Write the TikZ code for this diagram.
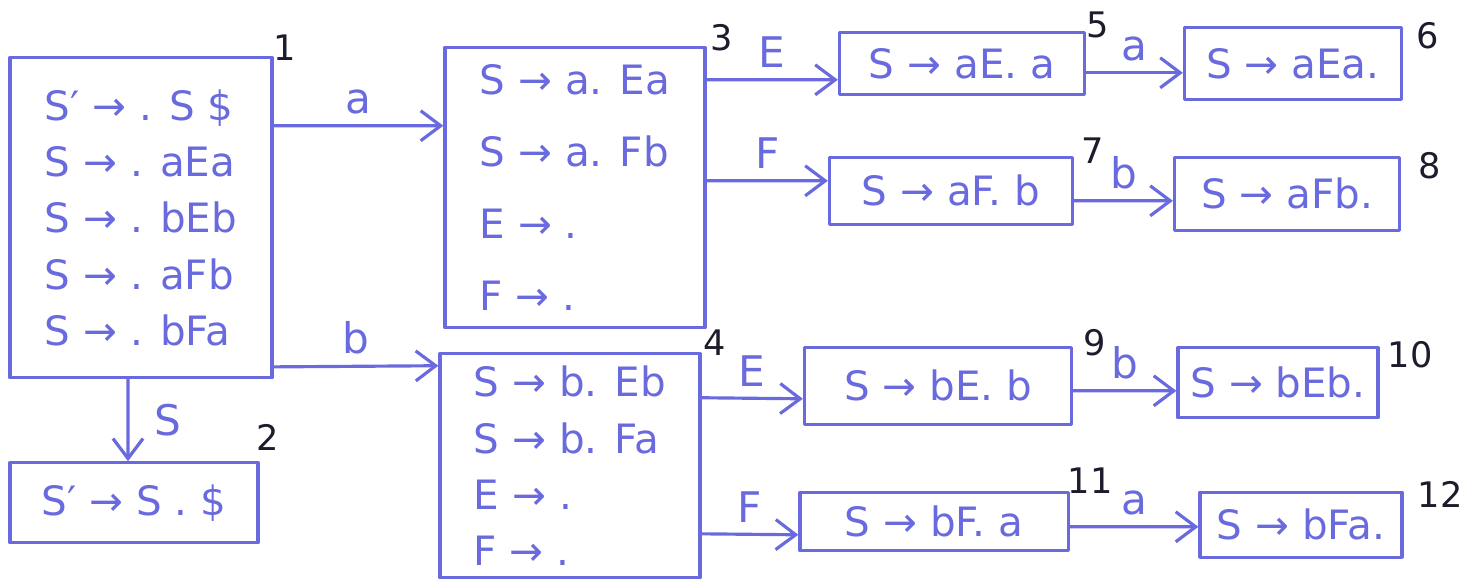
\documentclass[tikz,border=0pt]{standalone}
\usepackage{fontspec}
\setmainfont{DejaVu Sans}
\usetikzlibrary{arrows.meta}
\definecolor{inkblue}{HTML}{6A6ADF}
\definecolor{inkdark}{HTML}{1C1C2C}

\begin{document}
\begin{tikzpicture}[
  x=0.01cm, y=-0.01cm,
  >={Straight Barb[length=2mm, width=3mm]},
  line cap=round, line join=round,
  state/.style={draw=inkblue, line width=0.9pt, align=left, text=inkblue,
    inner sep=2pt, font=\fontsize{11.5}{16}\selectfont},
  trans/.style={->, draw=inkblue, line width=0.9pt},
  elab/.style={font=\fontsize{12}{14}\selectfont, text=inkblue, inner sep=3pt},
  num/.style={font=\fontsize{10}{12}\selectfont, text=inkdark},
]
\path (0,0) rectangle (1478,579);

% item sets
\node[state, minimum width=2.62cm, minimum height=3.2cm] (s1) at (141,215)
  {S′ → . S \$\\S → . aEa\\S → . bEb\\S → . aFb\\S → . bFa};
\node[state, minimum width=2.48cm, minimum height=0.8cm] (s2) at (134,500)
  {S′ → S . \$};
\node[state, minimum width=2.6cm, minimum height=2.8cm,
  font=\fontsize{11.5}{20.5}\selectfont] (s3) at (575,185)
  {S → a. Ea\\S → a. Fb\\E → .\\F → .};
\node[state, minimum width=2.6cm, minimum height=2.24cm] (s4) at (570,463)
  {S → b. Eb\\S → b. Fa\\E → .\\F → .};

% upper branch
\node[state, minimum width=2.45cm, minimum height=0.62cm] (s5) at (962,61) {S → aE. a};
\node[state, minimum width=2.17cm, minimum height=0.72cm] (s6) at (1293,61) {S → aEa.};
\node[state, minimum width=2.43cm, minimum height=0.67cm] (s7) at (951,188) {S → aF. b};
\node[state, minimum width=2.25cm, minimum height=0.73cm] (s8) at (1287,191) {S → aFb.};

% lower branch
\node[state, minimum width=2.67cm, minimum height=0.77cm] (s9) at (938,383) {S → bE. b};
\node[state, minimum width=2.0cm, minimum height=0.7cm] (s10) at (1278,380) {S → bEb.};
\node[state, minimum width=2.68cm, minimum height=0.58cm] (s11) at (934,519) {S → bF. a};
\node[state, minimum width=2.02cm, minimum height=0.65cm] (s12) at (1301,522) {S → bFa.};

% state numbers
\node[num] (n1) at (285,45) {1};
\node[num] (n2) at (268,435) {2};
\node[num] (n3) at (722,35) {3};
\node[num] (n4) at (715,340) {4};
\node[num] (n5) at (1098,22) {5};
\node[num] (n6) at (1428,33) {6};
\node[num] (n7) at (1093,148) {7};
\node[num] (n8) at (1430,163) {8};
\node[num] (n9) at (1095,340) {9};
\node[num] (n10) at (1410,352) {10};
\node[num] (n11) at (1090,478) {11};
\node[num] (n12) at (1440,492) {12};

% transitions
\draw[trans] ([yshift=0.92cm]s1.east) -- node[elab, above] (t13) {a} ([yshift=0.62cm]s3.west);
\draw[trans] ([yshift=-1.49cm]s1.east) -- node[elab, above] (t14) {b} ([yshift=1.0cm]s4.west);
\draw[trans] ([xshift=-0.13cm]s1.south) -- node[elab, right=4pt] (t12) {S} ([xshift=-0.06cm]s2.north);
\draw[trans] ([yshift=1.08cm]s3.east) -- node[elab, above] (t35) {E} ([yshift=-0.16cm]s5.west);
\draw[trans] ([yshift=0.07cm]s3.east) -- node[elab, above] (t37) {F} ([yshift=0.1cm]s7.west);
\draw[trans] ([yshift=-0.09cm]s5.east) -- node[elab, above] (t56) {a} ([yshift=-0.09cm]s6.west);
\draw[trans] ([yshift=-0.1cm]s7.east) -- node[elab, above] (t78) {b} ([yshift=-0.07cm]s8.west);
\draw[trans] ([yshift=0.68cm]s4.east) -- node[elab, above] (t49) {E} ([yshift=-0.13cm]s9.west);
\draw[trans] ([yshift=-0.68cm]s4.east) -- node[elab, above] (t411) {F} ([yshift=-0.13cm]s11.west);
\draw[trans] ([yshift=-0.05cm]s9.east) -- node[elab, above] (t910) {b} ([yshift=-0.08cm]s10.west);
\draw[trans] ([yshift=-0.05cm]s11.east) -- node[elab, above] (t1112) {a} ([yshift=-0.02cm]s12.west);
\end{tikzpicture}
\end{document}
